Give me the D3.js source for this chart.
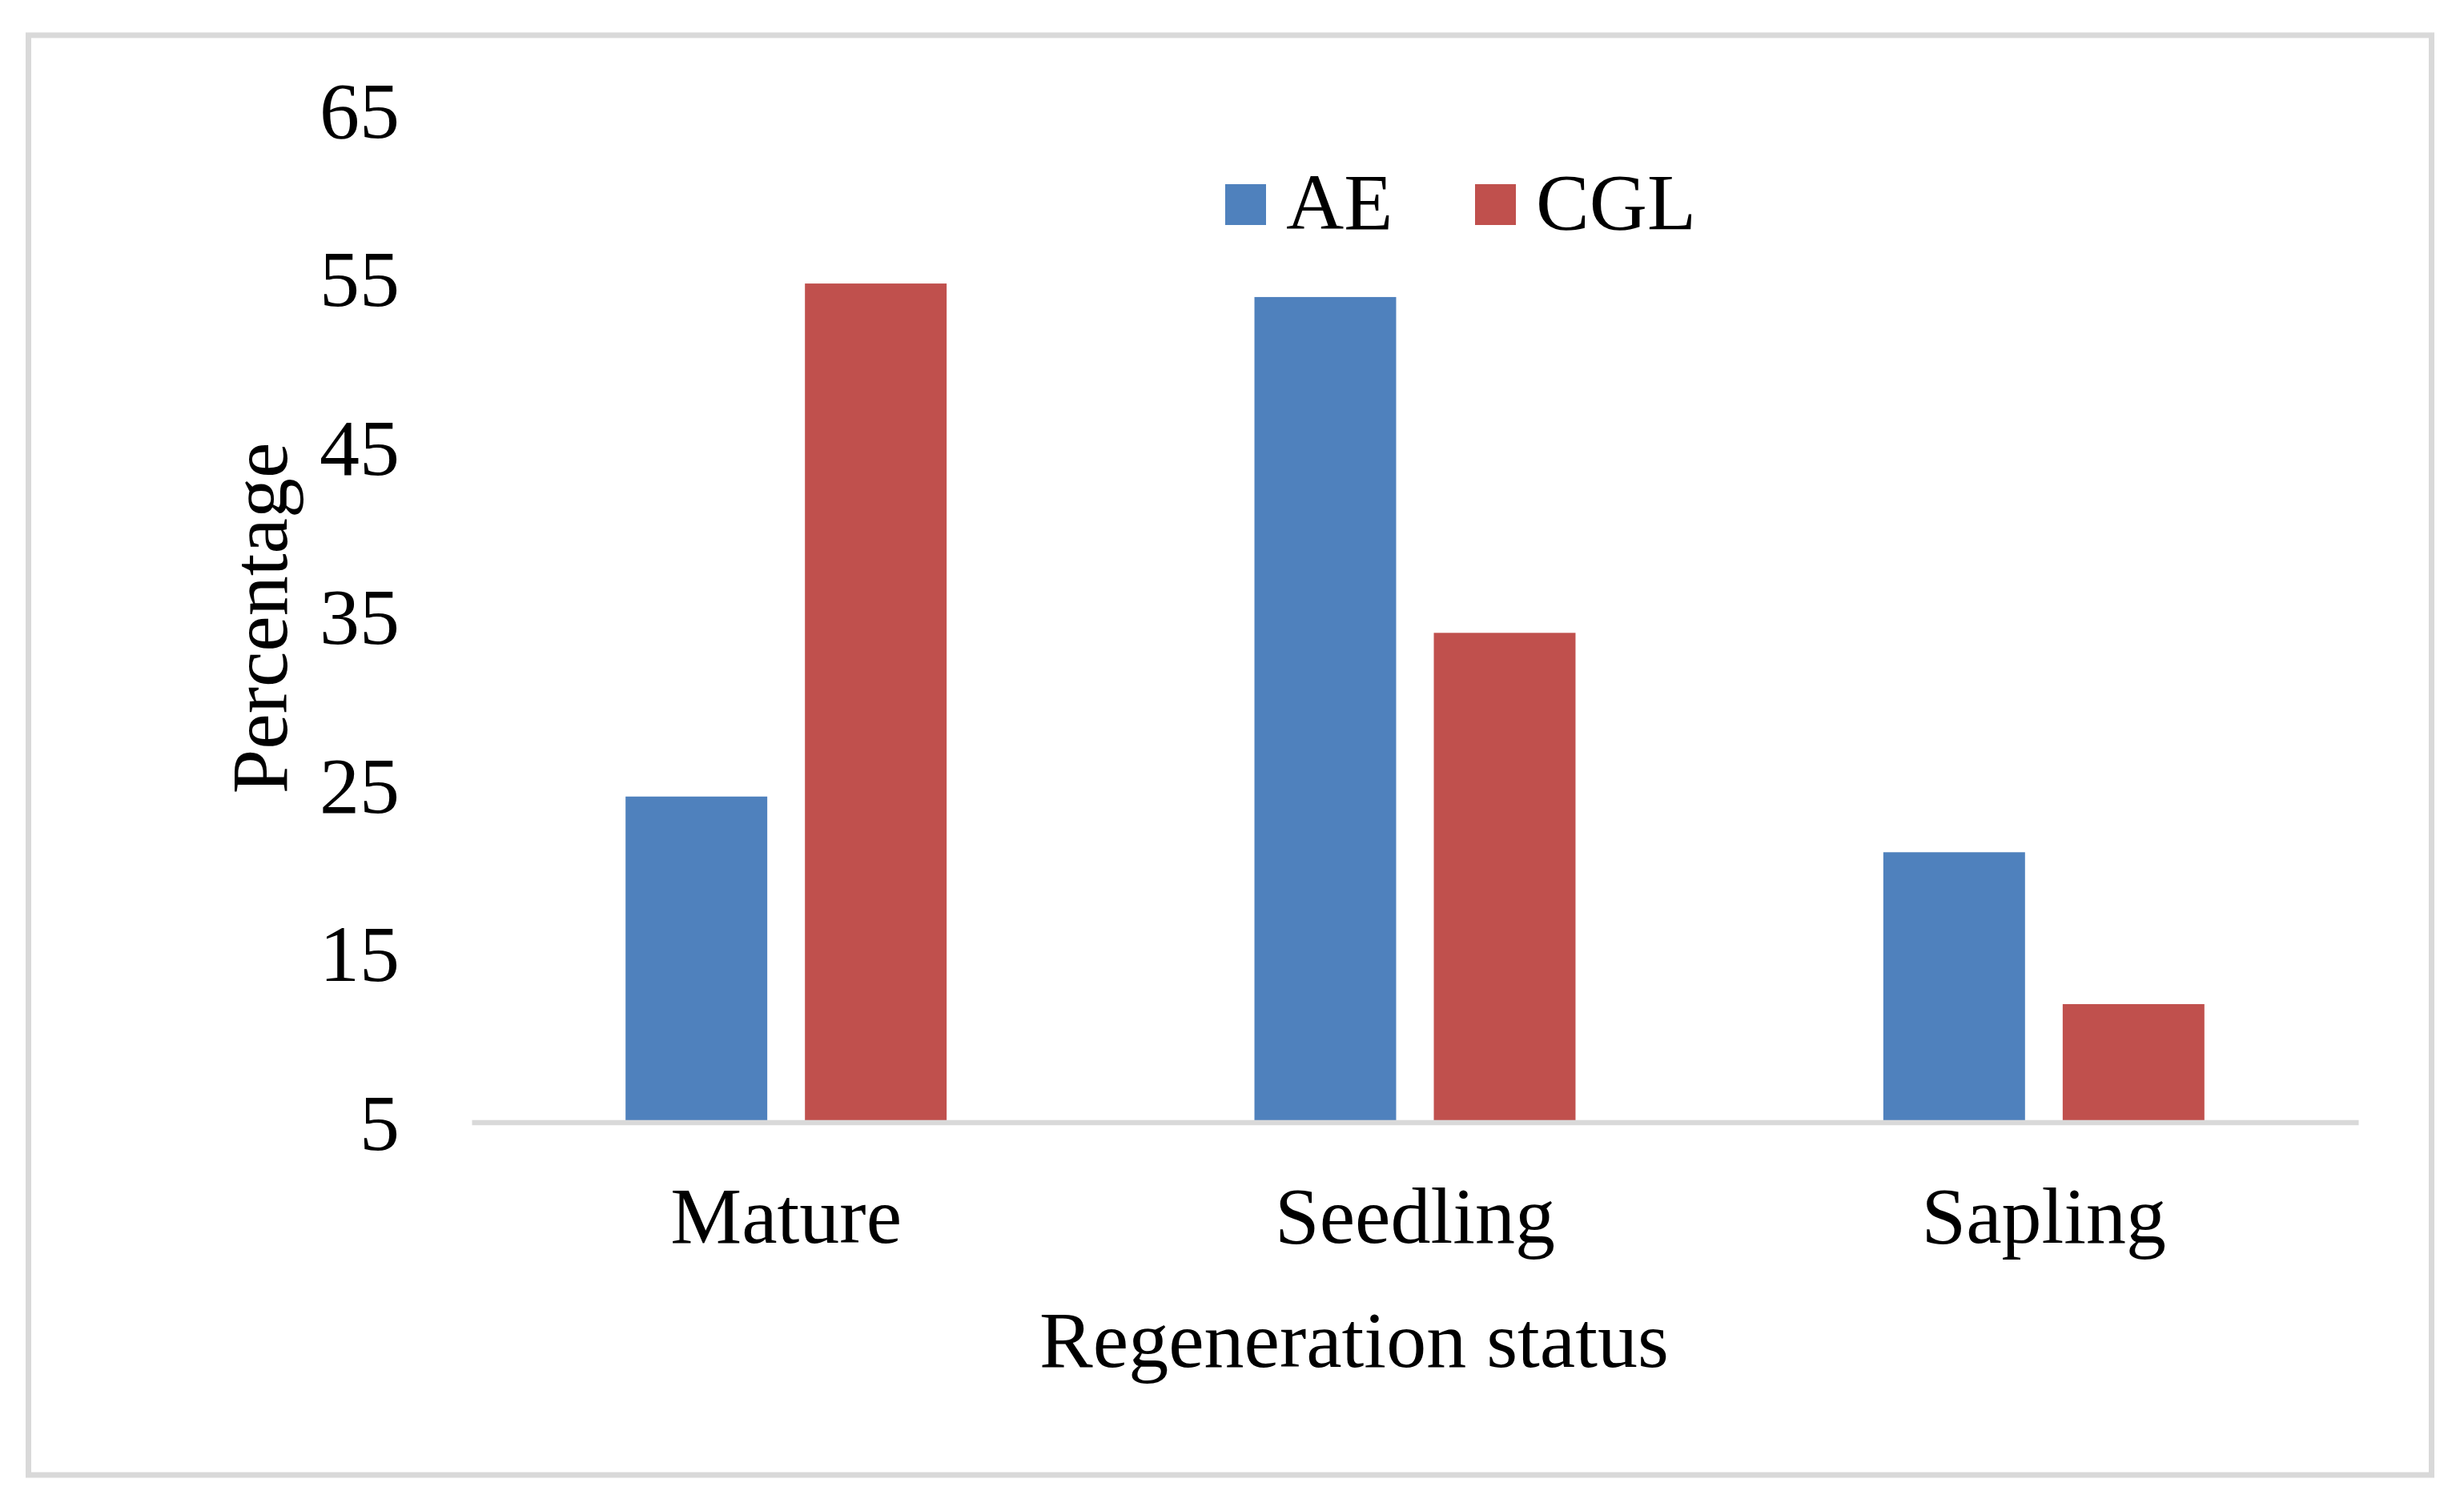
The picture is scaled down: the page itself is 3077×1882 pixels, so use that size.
<!DOCTYPE html>
<html>
<head>
<meta charset="utf-8">
<script src="https://cdn.jsdelivr.net/npm/d3@7"></script>
<style>
body { margin: 0; background: #fff; }
text { font-family: "Liberation Serif", "Times New Roman", serif; fill: #000; }
</style>
</head>
<body>
<div id="graphsvg"></div>
<script>
var categories = ["Mature", "Seedling", "Sapling"]
var series = ["AE", "CGL"]
var ae_values = [24.3, 53.9, 21.0]
var cgl_values = [54.7, 34.0, 12.0]
var y_ticks = [5, 15, 25, 35, 45, 55, 65]
var colors = ["#4f81bd", "#c0504d"]

function run_graph() {
	var width = 3077;
	var height = 1882;

	var svg = d3
		.select("#graphsvg")
		.append("svg")
		.attr("width", width)
		.attr("height", height);

	// chart border
	svg.append("rect")
		.attr("x", 35.5)
		.attr("y", 44)
		.attr("width", 3001)
		.attr("height", 1798)
		.style("fill", "#fff")
		.attr("stroke", "#d9d9d9")
		.style("stroke-width", 7);

	var x0 = d3.scaleBand()
		.domain(categories)
		.range([589, 2945]);

	var x1 = d3.scaleBand()
		.domain(series)
		.range([0, x0.bandwidth()])
		.paddingInner(0.21)
		.paddingOuter(0.858);

	var y = d3.scaleLinear()
		.domain([5, 65])
		.range([1401.5, 137]);

	var rows = categories.map(function (c, i) {
		return { cat: c, vals: [ae_values[i], cgl_values[i]] };
	});

	var groups = svg.selectAll("g.cat")
		.data(rows)
		.enter()
		.append("g")
		.attr("class", "cat")
		.attr("transform", function (d) { return "translate(" + x0(d.cat) + ",0)"; });

	groups.selectAll("rect")
		.data(function (d) { return d.vals.map(function (v, j) { return { s: series[j], v: v, j: j }; }); })
		.enter()
		.append("rect")
		.attr("x", function (d) { return x1(d.s); })
		.attr("y", function (d) { return y(d.v); })
		.attr("width", x1.bandwidth())
		.attr("height", function (d) { return y(5) - y(d.v); })
		.style("fill", function (d) { return colors[d.j]; });

	// y axis labels, no line
	var yAxis = d3.axisLeft(y).tickValues(y_ticks).tickSize(0).tickPadding(0);
	var yg = svg.append("g")
		.attr("transform", "translate(499,0)")
		.call(yAxis);
	yg.select(".domain").remove();
	yg.selectAll("text")
		.style("font-family", "Liberation Serif")
		.style("font-size", "100px")
		.attr("dy", "0.34em");

	// x axis
	var xAxis = d3.axisBottom(x0).tickSize(0).tickPadding(0);
	var xg = svg.append("g")
		.attr("transform", "translate(0," + y(5) + ")")
		.call(xAxis);
	xg.select(".domain")
		.attr("stroke", "#d9d9d9")
		.style("stroke-width", 6.5);
	xg.selectAll("text")
		.style("font-family", "Liberation Serif")
		.style("font-size", "100px")
		.attr("y", 150)
		.attr("dy", 0);

	svg.append("text")
		.text("Regeneration status")
		.attr("x", 1691)
		.attr("y", 1707)
		.attr("text-anchor", "middle")
		.style("font-size", "100px");

	svg.append("text")
		.text("Percentage")
		.attr("transform", "translate(358,772) rotate(-90)")
		.attr("text-anchor", "middle")
		.style("font-size", "100px");

	// legend
	var leg_x = [1530, 1842];
	for (var i = 0; i < series.length; i++) {
		svg.append("rect")
			.attr("x", leg_x[i])
			.attr("y", 230)
			.attr("width", 51)
			.attr("height", 51)
			.style("fill", colors[i]);
		svg.append("text")
			.text(series[i])
			.attr("x", leg_x[i] + 76)
			.attr("y", 286)
			.style("font-size", "100px");
	}
}

run_graph();
</script>
</body>
</html>
